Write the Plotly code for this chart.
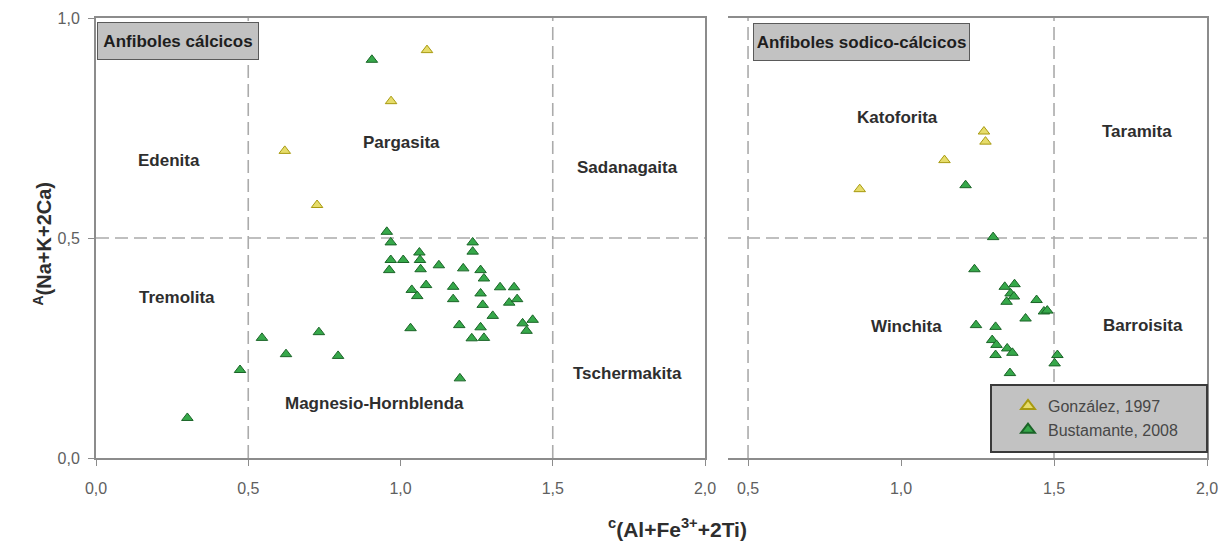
import plotly.graph_objects as go

# ---------------- data ----------------
# Left panel (Anfiboles cálcicos)
gonz_cal_x = [1.087, 0.969, 0.620, 0.726]
gonz_cal_y = [0.927, 0.811, 0.698, 0.575]

bust_cal_x = [0.906, 0.300, 0.473, 0.545, 0.624, 0.732, 0.795, 1.195,
              0.955, 0.968, 0.968, 1.009, 0.963, 1.062, 1.064, 1.066,
              1.126, 1.206, 1.237, 1.237, 1.263, 1.274, 1.084, 1.037,
              1.055, 1.173, 1.173, 1.263, 1.270, 1.327, 1.373, 1.357,
              1.383, 1.303, 1.033, 1.193, 1.263, 1.234, 1.274, 1.401,
              1.434, 1.414]
bust_cal_y = [0.905, 0.091, 0.200, 0.273, 0.236, 0.286, 0.232, 0.181,
              0.514, 0.490, 0.450, 0.450, 0.427, 0.467, 0.450, 0.429,
              0.438, 0.431, 0.490, 0.469, 0.427, 0.408, 0.393, 0.382,
              0.368, 0.389, 0.361, 0.374, 0.348, 0.388, 0.388, 0.353,
              0.361, 0.323, 0.295, 0.302, 0.297, 0.272, 0.273, 0.306,
              0.314, 0.289]

# Right panel (Anfiboles sodico-cálcicos)
gonz_sod_x = [1.271, 1.276, 1.142, 0.865]
gonz_sod_y = [0.742, 0.719, 0.677, 0.611]

bust_sod_x = [1.211, 1.301, 1.240, 1.339, 1.371, 1.358, 1.345, 1.369,
              1.443, 1.467, 1.478, 1.407, 1.245, 1.309, 1.298, 1.312,
              1.309, 1.347, 1.364, 1.511, 1.502, 1.356]
bust_sod_y = [0.620, 0.502, 0.429, 0.389, 0.395, 0.374, 0.355, 0.367,
              0.359, 0.333, 0.335, 0.317, 0.302, 0.298, 0.268, 0.257,
              0.234, 0.249, 0.239, 0.234, 0.215, 0.193]

field_cal_names = ["Edenita", "Pargasita", "Sadanagaita", "Tremolita",
                   "Magnesio-Hornblenda", "Tschermakita"]
field_cal_x = [0.24, 1.003, 1.747, 0.265, 0.916, 1.747]
field_cal_y = [0.677, 0.716, 0.660, 0.364, 0.125, 0.191]

field_sod_names = ["Katoforita", "Taramita", "Winchita", "Barroisita"]
field_sod_x = [0.988, 1.772, 1.018, 1.791]
field_sod_y = [0.773, 0.741, 0.298, 0.302]

x_ticks_left = [0.0, 0.5, 1.0, 1.5, 2.0]
x_ticks_right = [0.5, 1.0, 1.5, 2.0]
y_ticks = [0.0, 0.5, 1.0]

series_names = ["González, 1997", "Bustamante, 2008"]
# ---------------------------------------

W, H = 1220, 558
FONT = "Liberation Sans, Arial, sans-serif"
TXT = "#2e2e2e"
AX = "#8c8c8c"
DASH = "#ababab"

yel_fill, yel_line = "#e6dc6a", "#a89a10"
grn_fill, grn_line = "#36a84a", "#1b6428"

def px_x(p):
    return p / W

def px_y(p):
    return 1 - p / H

fig = go.Figure()

mk_y = dict(symbol="triangle-up", size=10, color=yel_fill, line=dict(color=yel_line, width=1))
mk_g = dict(symbol="triangle-up", size=10, color=grn_fill, line=dict(color=grn_line, width=1))

fig.add_trace(go.Scatter(x=bust_cal_x, y=bust_cal_y, mode="markers", marker=mk_g,
                         xaxis="x", yaxis="y", name=series_names[1], showlegend=False,
                         legendrank=2))
fig.add_trace(go.Scatter(x=gonz_cal_x, y=gonz_cal_y, mode="markers", marker=mk_y,
                         xaxis="x", yaxis="y", name=series_names[0], showlegend=True,
                         legendrank=1))
fig.add_trace(go.Scatter(x=bust_sod_x, y=bust_sod_y, mode="markers", marker=mk_g,
                         xaxis="x2", yaxis="y2", name=series_names[1], showlegend=True,
                         legendrank=2))
fig.add_trace(go.Scatter(x=gonz_sod_x, y=gonz_sod_y, mode="markers", marker=mk_y,
                         xaxis="x2", yaxis="y2", name=series_names[0], showlegend=False,
                         legendrank=1))

ydom = [px_y(458), px_y(18)]
axfont = dict(family=FONT, size=16, color="#606060")
x2_min = 0.5 - 20 / 305.3

common = dict(showgrid=False, zeroline=False, showline=True, linecolor=AX, linewidth=2,
              automargin=False, tickcolor=AX)

fig.update_layout(
    width=W, height=H,
    margin=dict(l=0, r=0, t=0, b=0, autoexpand=False),
    paper_bgcolor="white", plot_bgcolor="white",
    separators=",.",
    font=dict(family=FONT, color=TXT),
    xaxis=dict(domain=[px_x(96), px_x(705)], range=[0, 2.0], tickvals=x_ticks_left,
               tickformat=".1f", mirror=True, ticks="outside", ticklen=6,
               ticklabelstandoff=9, tickfont=axfont, anchor="y", **common),
    yaxis=dict(domain=ydom, range=[0, 1.0], tickvals=y_ticks, tickformat=".1f",
               mirror=True, ticks="outside", ticklen=6, ticklabelstandoff=5,
               tickfont=axfont, anchor="x", **common),
    xaxis2=dict(domain=[px_x(728), px_x(1207)], range=[x2_min, 2.0],
                tickvals=x_ticks_right, tickformat=".1f", mirror=True, ticks="outside",
                ticklen=6, ticklabelstandoff=9, tickfont=axfont, anchor="y2", **common),
    yaxis2=dict(domain=ydom, range=[0, 1.0], side="right", showticklabels=False,
                ticks="", anchor="x2", **common),
    legend=dict(x=px_x(996), y=px_y(418), xanchor="left", yanchor="middle",
                bgcolor="rgba(0,0,0,0)", borderwidth=0, indentation=12,
                font=dict(family=FONT, size=16, color="#474747"),
                itemsizing="constant", tracegroupgap=0),
)

# dashed field boundaries
dash_style = dict(color=DASH, width=1.6, dash="13px,6px")
for xv in [0.5, 1.5]:
    fig.add_shape(type="line", xref="x", yref="y", x0=xv, x1=xv, y0=0, y1=1,
                  line=dash_style, layer="below")
    fig.add_shape(type="line", xref="x2", yref="y2", x0=xv, x1=xv, y0=0, y1=1,
                  line=dash_style, layer="below")
fig.add_shape(type="line", xref="x", yref="y", x0=0, x1=2, y0=0.5, y1=0.5,
              line=dash_style, layer="below")
fig.add_shape(type="line", xref="x2", yref="y2", x0=x2_min, x1=2, y0=0.5, y1=0.5,
              line=dash_style, layer="below")

# legend box
fig.add_shape(type="rect", xref="paper", yref="paper",
              x0=px_x(991), x1=px_x(1207), y0=px_y(452), y1=px_y(385),
              fillcolor="#c2c2c2", line=dict(color="#3a3a3a", width=2), layer="above")

bold17 = dict(family=FONT, size=17, color=TXT, weight="bold")

# field names
for n, xv, yv in zip(field_cal_names, field_cal_x, field_cal_y):
    fig.add_annotation(x=xv, y=yv, xref="x", yref="y", text=n,
                       showarrow=False, font=bold17)
for n, xv, yv in zip(field_sod_names, field_sod_x, field_sod_y):
    fig.add_annotation(x=xv, y=yv, xref="x2", yref="y2", text=n,
                       showarrow=False, font=bold17)

# panel title boxes
boxfont = dict(family=FONT, size=17, color="#1e1e1e", weight="bold")
fig.add_annotation(x=px_x(97), y=px_y(22), xref="paper", yref="paper",
                   xanchor="left", yanchor="top", text="Anfiboles cálcicos",
                   showarrow=False, bgcolor="#c2c2c2", bordercolor="#5a5a5a",
                   borderwidth=1, width=158, height=34, borderpad=1, font=boxfont)
fig.add_annotation(x=px_x(753), y=px_y(23), xref="paper", yref="paper",
                   xanchor="left", yanchor="top", text="Anfiboles sodico-cálcicos",
                   showarrow=False, bgcolor="#c2c2c2", bordercolor="#5a5a5a",
                   borderwidth=1, width=213, height=34, borderpad=1, font=boxfont)

# axis titles
fig.add_annotation(x=px_x(677), y=px_y(543), xref="paper", yref="paper",
                   text="<sup>c</sup>(Al+Fe<sup>3+</sup>+2Ti)", showarrow=False,
                   font=dict(family=FONT, size=21, color=TXT, weight="bold"))
fig.add_annotation(x=px_x(27), y=px_y(244), xref="paper", yref="paper",
                   text="<sup>A</sup>(Na+K+2Ca)", showarrow=False, textangle=-90,
                   font=dict(family=FONT, size=20, color=TXT, weight="bold"))

fig.write_html("out.html")
